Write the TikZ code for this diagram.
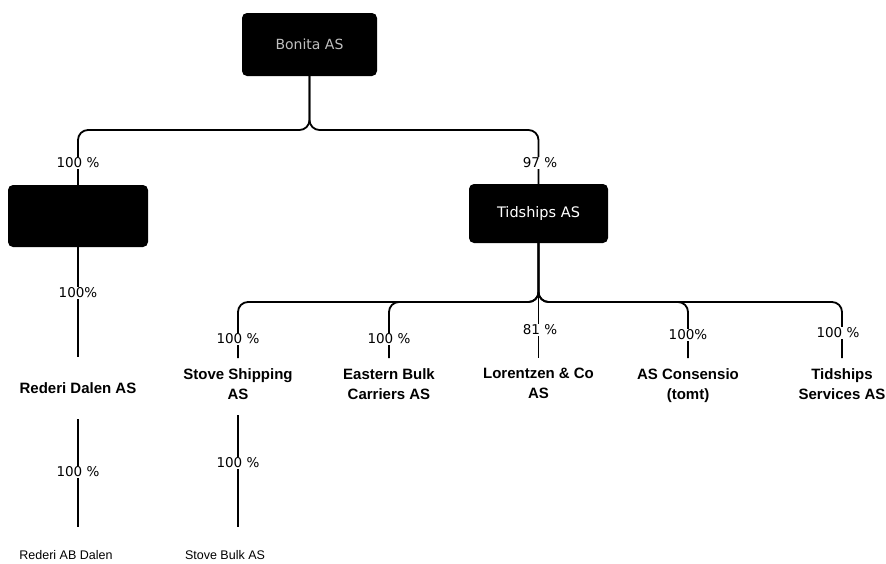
\documentclass[tikz,border=0pt]{standalone}
\usepackage{fontspec}
\setmainfont{Liberation Sans}
\newfontfamily\dvs{DejaVu Sans}
\begin{document}
\begin{tikzpicture}[x=1pt,y=-1pt,
 darkbox/.style={draw=none, fill=black, rounded corners=5pt, inner sep=0pt},
 conn/.style={line width=1.8pt, rounded corners=10pt},
 pct/.style={fill=white, inner sep=0.5pt, font=\dvs\fontsize{13.5}{15}\selectfont},
 child/.style={anchor=north, align=center, inner xsep=2pt, inner ysep=10pt, font=\bfseries\fontsize{15}{20}\selectfont},
 leaf/.style={anchor=north, inner ysep=23pt, font=\fontsize{12.5}{15}\selectfont}]
\useasboundingbox (0,0) rectangle (886,563);
\coordinate (bus1) at (0,130);
\coordinate (bus2) at (0,302);
% boxes
\node[darkbox, minimum width=135pt, minimum height=63pt, text=black!25, font=\dvs\fontsize{14}{16}\selectfont] (bonita) at (309.5,44.5) {Bonita AS};
\node[darkbox, minimum width=140pt, minimum height=62pt] (holding) at (78,216) {};
\node[darkbox, minimum width=139pt, minimum height=59pt, text=white, font=\dvs\fontsize{14.5}{16}\selectfont] (tidships) at (538.5,213.5) {Tidships AS};
% left chain
\node[font=\bfseries\fontsize{15}{18}\selectfont, minimum height=62pt, inner sep=0pt] (dalen) at (78,388) {Rederi Dalen AS};
\node[leaf] (abdalen) at (66,527) {Rederi AB Dalen};
% Tidships children
\node[child] (stove) at (238,358) {Stove Shipping\\AS};
\node[child] (eastern) at (389,358) {Eastern Bulk\\Carriers AS};
\node[child] (lorentzen) at (538.5,358) {Lorentzen \& Co\\AS};
\node[child] (consensio) at (688,358) {AS Consensio\\(tomt)};
\node[child] (services) at (842,358) {Tidships\\Services AS};
\node[leaf] (stovebulk) at (225,527) {Stove Bulk AS};
% connectors
\draw[conn] (bonita.south) -- (bonita.south |- bus1) -- (holding.north |- bus1) -- (holding.north);
\draw[conn] (bonita.south) -- (bonita.south |- bus1) -- (tidships.north |- bus1) -- (tidships.north);
\draw[conn] (holding.south) -- (dalen.north);
\draw[conn] (dalen.south) -- (dalen.south |- abdalen.north);
\draw[conn] (tidships.south) -- (tidships.south |- bus2) -- (stove.north |- bus2) -- (stove.north);
\draw[conn] (tidships.south) -- (tidships.south |- bus2) -- (eastern.north |- bus2) -- (eastern.north);
\draw[conn] (tidships.south) -- (lorentzen.north);
\draw[conn] (tidships.south) -- (tidships.south |- bus2) -- (consensio.north |- bus2) -- (consensio.north);
\draw[conn] (tidships.south) -- (tidships.south |- bus2) -- (services.north |- bus2) -- (services.north);
\draw[conn, shorten <=6pt] (stove.south) -- (stove.south |- stovebulk.north);
% percentage labels
\node[pct] (p1) at (78,163) {100 \%};
\node[pct] (p2) at (540,163) {97 \%};
\node[pct] (p3) at (78,293) {100\%};
\node[pct] (p4) at (78,472) {100 \%};
\node[pct] (p5) at (238,339) {100 \%};
\node[pct] (p6) at (389,339) {100 \%};
\node[pct] (p7) at (540,330) {81 \%};
\node[pct] (p8) at (688,335) {100\%};
\node[pct] (p9) at (838,333) {100 \%};
\node[pct] (p10) at (238,463) {100 \%};
\end{tikzpicture}
\end{document}
